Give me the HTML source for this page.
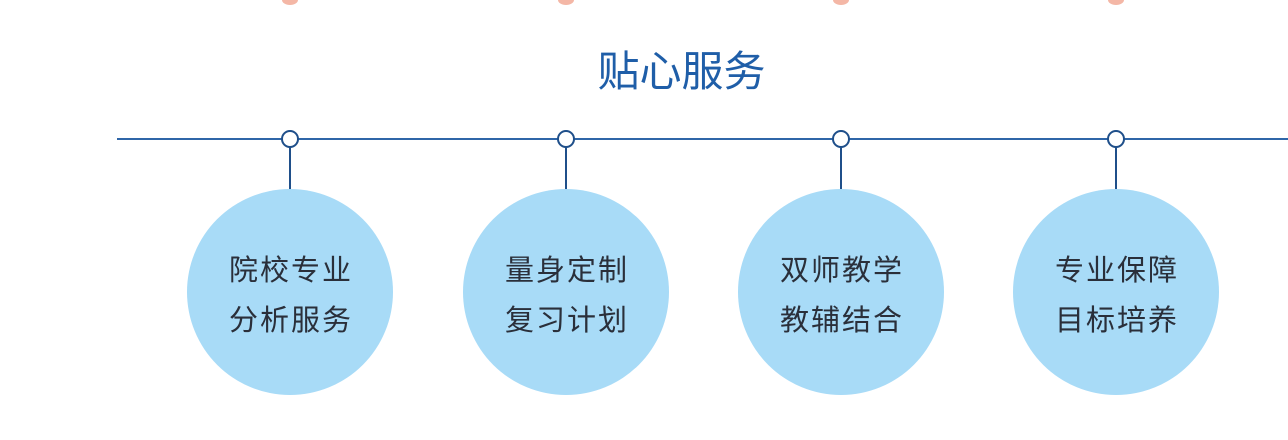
<!DOCTYPE html>
<html><head><meta charset="utf-8"><style>
html,body{margin:0;padding:0;background:#fff;}
body{width:1288px;height:440px;overflow:hidden;position:relative;font-family:"Liberation Sans","Noto Sans CJK SC",sans-serif;}
.t{position:absolute;left:0;width:1288px;top:46px;text-align:center;font-size:42px;color:#1f5ea8;line-height:52px;padding-left:75px;box-sizing:border-box;}
.c{position:absolute;width:206px;height:206px;border-radius:50%;background:#a8dbf7;top:189px;display:flex;flex-direction:column;align-items:center;justify-content:center;color:#2a2f3a;font-size:29px;line-height:50px;letter-spacing:2px;}
.c span{display:block;padding-left:2px;height:50px;position:relative;top:4px}
</style></head><body>
<svg width="1288" height="440" style="position:absolute;left:0;top:0">
<g fill="#f4b7a6"><ellipse cx="290" cy="0" rx="8" ry="5"/><ellipse cx="566" cy="0" rx="8" ry="5"/><ellipse cx="841" cy="0" rx="8" ry="5"/><ellipse cx="1116" cy="0" rx="8" ry="5"/></g>
<line x1="117" y1="139" x2="1288" y2="139" stroke="#2f66a8" stroke-width="2"/>
<g stroke="#1f4f8a" stroke-width="2" fill="#fff">
<line x1="290" y1="147" x2="290" y2="194"/><line x1="566" y1="147" x2="566" y2="194"/><line x1="841" y1="147" x2="841" y2="194"/><line x1="1116" y1="147" x2="1116" y2="194"/>
<circle cx="290" cy="139" r="8"/><circle cx="566" cy="139" r="8"/><circle cx="841" cy="139" r="8"/><circle cx="1116" cy="139" r="8"/>
</g>
</svg>
<div class="t">贴心服务</div>
<div class="c" style="left:187px"><span>院校专业</span><span>分析服务</span></div>
<div class="c" style="left:463px"><span>量身定制</span><span>复习计划</span></div>
<div class="c" style="left:738px"><span>双师教学</span><span>教辅结合</span></div>
<div class="c" style="left:1013px"><span>专业保障</span><span>目标培养</span></div>
</body></html>
